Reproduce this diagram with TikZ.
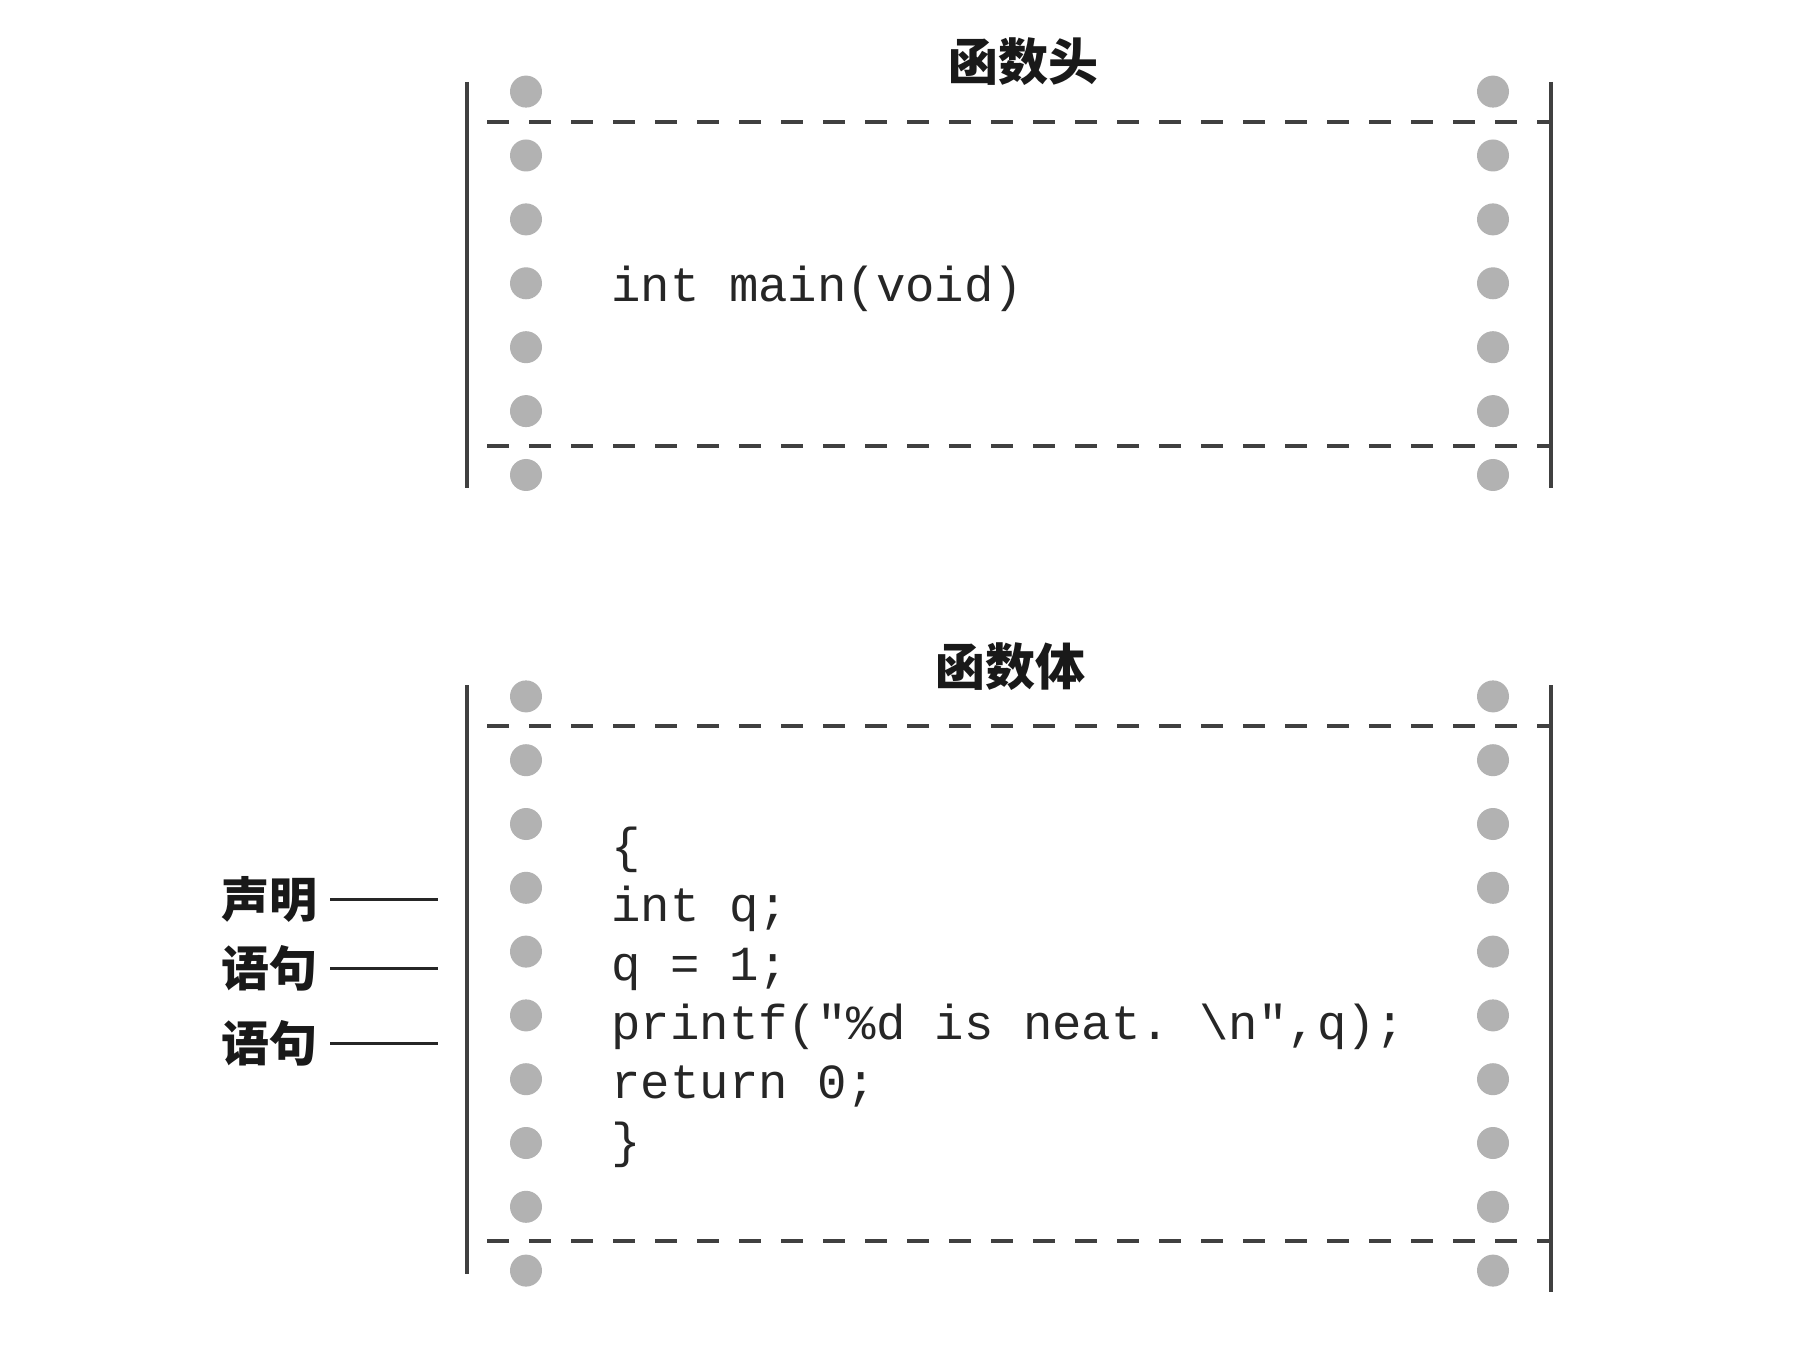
\documentclass[tikz,border=0pt]{standalone}
\usepackage{fontspec}
\setmonofont{Liberation Mono}
\newfontfamily\cjk{Noto Sans CJK SC}
\begin{document}
\begin{tikzpicture}[x=0.5pt,y=-0.5pt,
  rail/.style={draw=black!75, line width=1.6pt},
  cutline/.style={draw=black!75, line width=2pt, dash pattern=on 11pt off 10pt},
  hole/.style={circle, fill=black!30, minimum size=16pt, inner sep=0pt},
  codeline/.style={font=\fontsize{24.5}{28}\selectfont\ttfamily, text=black!85, inner sep=0pt, anchor=base west},
  titletext/.style={font=\cjk\bfseries\fontsize{25}{30}\selectfont, text=black!90, inner sep=0pt},
  sidelabel/.style={font=\cjk\bfseries\fontsize{24}{28}\selectfont, text=black!90, inner xsep=6pt, inner ysep=0pt, anchor=east},
  pointer/.style={draw=black!85, line width=1.5pt}]
\useasboundingbox (0,0) rectangle (1796,1348);
\fill[white] (0,0) rectangle (1796,1348);

% ---------- top box: function header ----------
\node[titletext] (headtitle) at (1023,62) {函数头};
\coordinate (hTL) at (467,82);  \coordinate (hBL) at (467,488);
\coordinate (hTR) at (1551,82); \coordinate (hBR) at (1551,488);
\draw[rail] (hTL) -- (hBL);
\draw[rail] (hTR) -- (hBR);
\coordinate (hcutAL) at (487,122); \coordinate (hcutAR) at (1551,122);
\coordinate (hcutBL) at (487,446); \coordinate (hcutBR) at (1551,446);
\draw[cutline] (hcutAL) -- (hcutAR);
\draw[cutline] (hcutBL) -- (hcutBR);
\foreach \k in {0,...,6} {
  \node[hole] (hl\k) at (526,{91.6+63.9*\k}) {};
  \node[hole] (hr\k) at (1493,{91.6+63.9*\k}) {};
}
\node[codeline] (header) at (611,302) {int main(void)};

% ---------- bottom box: function body ----------
\node[titletext] (bodytitle) at (1010,667) {函数体};
\coordinate (bTL) at (467,685);  \coordinate (bBL) at (467,1274);
\coordinate (bTR) at (1551,685); \coordinate (bBR) at (1551,1292);
\draw[rail] (bTL) -- (bBL);
\draw[rail] (bTR) -- (bBR);
\coordinate (bcutAL) at (487,726);  \coordinate (bcutAR) at (1551,726);
\coordinate (bcutBL) at (487,1241); \coordinate (bcutBR) at (1551,1241);
\draw[cutline] (bcutAL) -- (bcutAR);
\draw[cutline] (bcutBL) -- (bcutBR);
\foreach \k in {0,...,9} {
  \node[hole] (bl\k) at (526,{696.4+63.8*\k}) {};
  \node[hole] (br\k) at (1493,{696.4+63.8*\k}) {};
}
\node[codeline] (c0) at (611,862)  {\{};
\node[codeline] (c1) at (611,921)  {int q;};
\node[codeline] (c2) at (611,980)  {q = 1;};
\node[codeline] (c3) at (611,1039) {printf("\%d is neat. \textbackslash n",q);};
\node[codeline] (c4) at (611,1098) {return 0;};
\node[codeline] (c5) at (611,1157) {\}};

% ---------- side labels ----------
\node[sidelabel] (decl) at (330,899) {声明};
\node[sidelabel] (stmtA) at (330,968) {语句};
\node[sidelabel] (stmtB) at (330,1043) {语句};
\coordinate (declEnd) at (438,899);
\coordinate (stmtAEnd) at (438,968);
\coordinate (stmtBEnd) at (438,1043);
\draw[pointer] (decl.east) -- (declEnd);
\draw[pointer] (stmtA.east) -- (stmtAEnd);
\draw[pointer] (stmtB.east) -- (stmtBEnd);
\end{tikzpicture}
\end{document}
